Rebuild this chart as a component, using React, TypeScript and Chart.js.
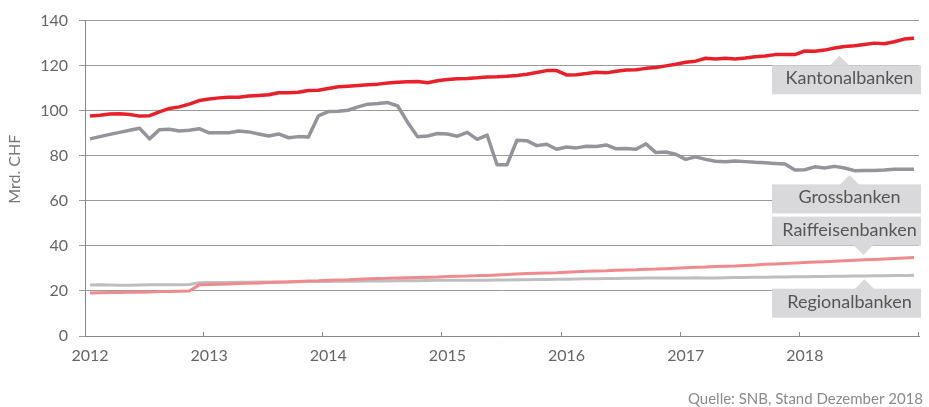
import React, { useEffect, useRef } from 'react';
import { Chart, registerables } from 'chart.js';

Chart.register(...registerables);

// ---- Data (monthly, Jan 2012 – Dec 2018), Mrd. CHF ----
const years = ['2012', '2013', '2014', '2015', '2016', '2017', '2018'];

const kantonalbanken = [
  97.7, 98.0, 98.5, 98.6, 98.3, 97.6, 97.8, 99.5, 101.0, 101.7, 102.9, 104.5,
  105.2, 105.7, 106.0, 106.0, 106.5, 106.8, 107.1, 108.0, 108.0, 108.2, 109.0, 109.1,
  109.9, 110.6, 110.9, 111.2, 111.5, 111.8, 112.3, 112.6, 112.9, 113.0, 112.4, 113.3,
  113.9, 114.2, 114.3, 114.6, 115.0, 115.1, 115.3, 115.6, 116.2, 117.0, 117.8, 117.8,
  115.9, 116.0, 116.5, 117.1, 116.8, 117.5, 118.1, 118.2, 118.8, 119.2, 119.9, 120.6,
  121.5, 122.0, 123.3, 123.0, 123.3, 123.0, 123.4, 124.0, 124.3, 124.9, 124.9, 124.9,
  126.5, 126.4, 126.9, 127.8, 128.5, 128.8, 129.4, 130.0, 129.7, 130.6, 131.8, 132.2,
];

const grossbanken = [
  87.5, 88.5, 89.5, 90.4, 91.3, 92.2, 87.5, 91.6, 91.8, 91.0, 91.3, 92.0,
  90.2, 90.2, 90.2, 91.0, 90.6, 89.7, 88.8, 89.7, 88.0, 88.5, 88.3, 97.7,
  99.6, 99.8, 100.2, 101.7, 102.9, 103.2, 103.6, 102.1, 94.8, 88.4, 88.8, 89.9,
  89.7, 88.7, 90.4, 87.3, 89.2, 76.0, 76.0, 86.9, 86.7, 84.5, 85.1, 82.9,
  83.9, 83.5, 84.2, 84.1, 84.8, 83.1, 83.2, 82.9, 85.3, 81.4, 81.7, 80.7,
  78.4, 79.5, 78.4, 77.6, 77.3, 77.7, 77.4, 77.1, 76.9, 76.6, 76.3, 73.7,
  73.8, 75.1, 74.6, 75.3, 74.6, 73.4, 73.5, 73.5, 73.7, 74.0, 74.0, 74.0,
];

const raiffeisenbanken = [
  19.1, 19.2, 19.3, 19.3, 19.4, 19.4, 19.5, 19.7, 19.8, 19.9, 20.0, 22.7,
  22.9, 23.0, 23.1, 23.3, 23.4, 23.5, 23.7, 23.9, 24.0, 24.2, 24.4, 24.5,
  24.7, 24.9, 25.0, 25.2, 25.4, 25.5, 25.6, 25.8, 25.9, 26.0, 26.1, 26.2,
  26.4, 26.5, 26.6, 26.8, 26.9, 27.1, 27.3, 27.5, 27.7, 27.9, 28.0, 28.1,
  28.3, 28.5, 28.7, 28.9, 29.0, 29.2, 29.3, 29.4, 29.6, 29.7, 29.9, 30.1,
  30.3, 30.5, 30.6, 30.8, 31.0, 31.1, 31.3, 31.5, 31.8, 32.0, 32.2, 32.4,
  32.6, 32.8, 33.0, 33.2, 33.4, 33.6, 33.8, 34.0, 34.2, 34.4, 34.6, 34.8,
];

const regionalbanken = [
  22.6, 22.7, 22.6, 22.5, 22.5, 22.6, 22.7, 22.7, 22.8, 22.8, 22.9, 23.6,
  23.7, 23.8, 23.8, 23.9, 23.9, 24.0, 24.0, 24.0, 24.1, 24.1, 24.2, 24.2,
  24.2, 24.3, 24.3, 24.3, 24.4, 24.4, 24.4, 24.5, 24.5, 24.5, 24.6, 24.7,
  24.7, 24.7, 24.8, 24.8, 24.8, 24.9, 24.9, 25.0, 25.0, 25.1, 25.1, 25.2,
  25.2, 25.3, 25.4, 25.4, 25.5, 25.5, 25.6, 25.6, 25.7, 25.7, 25.8, 25.8,
  25.8, 25.9, 25.8, 25.8, 25.9, 26.0, 26.0, 26.1, 26.1, 26.2, 26.2, 26.3,
  26.3, 26.4, 26.4, 26.5, 26.5, 26.6, 26.6, 26.7, 26.7, 26.8, 26.8, 27.0,
];

const seriesNames = ['Kantonalbanken', 'Grossbanken', 'Raiffeisenbanken', 'Regionalbanken'];
const seriesValues = [kantonalbanken, grossbanken, raiffeisenbanken, regionalbanken];
const seriesColors = ['#e8202b', '#94949a', '#f08a8f', '#bebebe'];
const seriesWidths = [3.5, 3.5, 3, 3];

const yTicks = [0, 20, 40, 60, 80, 100, 120, 140];
const yTitle = 'Mrd. CHF';
const sourceText = 'Quelle: SNB, Stand Dezember 2018';

// annotation callouts: series index, anchor month position, side of line, gap (px)
const callouts = [
  { series: 0, at: 76, side: 'below', gap: 8.5 },
  { series: 1, at: 77, side: 'below', gap: 5.6 },
  { series: 2, at: 78.4, side: 'above', gap: 4.8 },
  { series: 3, at: 78.5, side: 'below', gap: 3.1 },
];

const FONT = 'Lato, "Open Sans", sans-serif';

function valueAt(arr: number[], pos: number) {
  const idx = pos - 0.5;
  const i0 = Math.max(0, Math.min(arr.length - 2, Math.floor(idx)));
  const t = idx - i0;
  return arr[i0] * (1 - t) + arr[i0 + 1] * t;
}

const decorPlugin = {
  id: 'decor',
  afterDatasetsDraw(chart: any) {
    const { ctx, chartArea, scales } = chart;
    const xs = scales.x;
    const ys = scales.y;
    ctx.save();
    // inward year ticks on the x axis
    ctx.strokeStyle = '#888888';
    ctx.lineWidth = 1;
    for (let k = 1; k <= years.length; k++) {
      const px = Math.round(xs.getPixelForValue(k * 12)) - 0.5;
      ctx.beginPath();
      ctx.moveTo(px, chartArea.bottom - 4);
      ctx.lineTo(px, chartArea.bottom);
      ctx.stroke();
    }
    // y axis title (rotated)
    ctx.save();
    ctx.translate(15, ys.getPixelForValue(74));
    ctx.rotate(-Math.PI / 2);
    ctx.fillStyle = '#777777';
    ctx.font = '16px ' + FONT;
    ctx.textAlign = 'center';
    ctx.textBaseline = 'middle';
    ctx.fillText(yTitle, 0, 0);
    ctx.restore();
    // callouts
    const boxW = 149;
    const boxH = 29;
    const triH = 9.5;
    const triHalf = 10;
    callouts.forEach((c) => {
      const v = valueAt(seriesValues[c.series], c.at);
      const tipX = xs.getPixelForValue(c.at);
      const lineY = ys.getPixelForValue(v);
      const right = chartArea.right + 2;
      const left = right - boxW;
      let top: number;
      ctx.fillStyle = '#d9d9db';
      ctx.beginPath();
      if (c.side === 'below') {
        const tipY = lineY + c.gap;
        top = tipY + triH;
        ctx.moveTo(tipX, tipY);
        ctx.lineTo(tipX + triHalf, top + 0.5);
        ctx.lineTo(tipX - triHalf, top + 0.5);
      } else {
        const tipY = lineY - c.gap;
        top = tipY - triH - boxH;
        ctx.moveTo(tipX, tipY);
        ctx.lineTo(tipX + triHalf, top + boxH - 0.5);
        ctx.lineTo(tipX - triHalf, top + boxH - 0.5);
      }
      ctx.closePath();
      ctx.fill();
      ctx.fillRect(left, top, boxW, boxH);
      ctx.fillStyle = '#555555';
      ctx.font = '18px ' + FONT;
      ctx.textAlign = 'center';
      ctx.textBaseline = 'alphabetic';
      ctx.fillText(seriesNames[c.series], (left + right) / 2 + 3, top + 19);
    });
    // source
    ctx.fillStyle = '#8a8a8a';
    ctx.font = '15px ' + FONT;
    ctx.textAlign = 'right';
    ctx.textBaseline = 'alphabetic';
    ctx.fillText(sourceText, chart.width - 6, 404);
    ctx.restore();
  },
};

export default function App() {
  const ref = useRef<HTMLCanvasElement | null>(null);

  useEffect(() => {
    if (!ref.current) return;
    const chart = new Chart(ref.current, {
      type: 'line',
      data: {
        datasets: seriesValues.map((vals, s) => ({
          label: seriesNames[s],
          data: vals.map((v, i) => ({ x: i + 0.5, y: v })),
          borderColor: seriesColors[s],
          backgroundColor: seriesColors[s],
          borderWidth: seriesWidths[s],
          pointRadius: 0,
          tension: 0,
          borderJoinStyle: 'round' as const,
          fill: false,
        })),
      },
      options: {
        animation: false,
        responsive: true,
        maintainAspectRatio: false,
        layout: { padding: { top: 18, right: 3, left: 0, bottom: 0 } },
        plugins: {
          legend: { display: false },
          tooltip: { enabled: false },
          title: { display: false },
        },
        scales: {
          x: {
            type: 'linear',
            min: 0,
            max: years.length * 12,
            afterFit: (scale: any) => {
              scale.height = 71;
            },
            afterBuildTicks: (scale: any) => {
              scale.ticks = years.map((_, k) => ({ value: k * 12 })).concat([{ value: years.length * 12 }]);
            },
            ticks: {
              autoSkip: false,
              maxRotation: 0,
              minRotation: 0,
              padding: 10,
              labelOffset: 5,
              color: '#666666',
              font: { family: FONT, size: 16 },
              callback: (v: any) => {
                const k = Math.round(Number(v) / 12);
                return k < years.length ? years[k] : '';
              },
            },
            grid: { drawOnChartArea: false, drawTicks: false },
            border: { display: true, color: '#888888', width: 1 },
          },
          y: {
            type: 'linear',
            min: yTicks[0],
            max: yTicks[yTicks.length - 1],
            afterFit: (scale: any) => {
              scale.width = 85;
            },
            afterBuildTicks: (scale: any) => {
              scale.ticks = yTicks.map((v) => ({ value: v }));
            },
            ticks: {
              padding: 11,
              color: '#666666',
              font: { family: FONT, size: 16 },
            },
            grid: { color: '#9a9a9a', lineWidth: 1, tickLength: 6 },
            border: { display: true, color: '#888888', width: 1 },
          },
        },
      },
      plugins: [decorPlugin],
    });
    return () => chart.destroy();
  }, []);

  return (
    <div style={{ position: 'fixed', left: 0, top: 0, width: 929, height: 407, background: '#fff' }}>
      <canvas ref={ref} />
    </div>
  );
}
